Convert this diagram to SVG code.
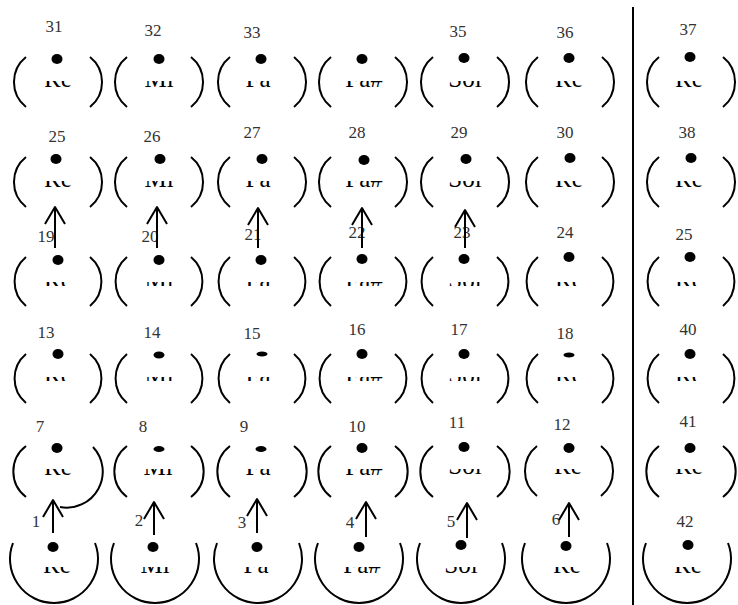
<svg xmlns="http://www.w3.org/2000/svg" width="738" height="605" viewBox="0 0 738 605">
<style>
.p{fill:none;stroke:#000;stroke-width:2}
.d{fill:#000}
.t{font-family:"Liberation Serif","Times New Roman",serif;font-size:25px;text-anchor:middle;fill:#000}
.n{font-family:"Liberation Serif","Times New Roman",serif;font-size:17px;text-anchor:middle;fill:#333}
.c{fill:none;stroke:#000;stroke-width:2;marker-end:url(#ah)}
</style>
<defs>
<marker id="ah" markerUnits="userSpaceOnUse" viewBox="-19 -12 22 24" markerWidth="22" markerHeight="24" refX="0" refY="0" orient="auto" overflow="visible">
<path d="M-17,-10 L0,0 L-17,10" fill="none" stroke="#000" stroke-width="2" stroke-linejoin="round"/>
</marker>
<clipPath id="c1"><rect x="0" y="81" width="738" height="7"/></clipPath>
<clipPath id="c2"><rect x="0" y="181" width="738" height="7"/></clipPath>
<clipPath id="c3"><rect x="0" y="282" width="738" height="4"/></clipPath>
<clipPath id="c4"><rect x="0" y="377" width="738" height="4"/></clipPath>
<clipPath id="c5"><rect x="0" y="469" width="738" height="7"/></clipPath>
<clipPath id="c6"><rect x="0" y="567" width="738" height="7"/></clipPath>
</defs>
<rect width="738" height="605" fill="#fff"/>
<line x1="633" y1="7" x2="633" y2="605" stroke="#000" stroke-width="2"/>

<!-- Row 1 -->
<g id="n31"><text class="n" x="54" y="32">31</text><ellipse class="d" cx="57" cy="59" rx="5.5" ry="5"/><text class="t" x="58" y="87" clip-path="url(#c1)">Re</text><path class="p" d="M26 57A32 32 0 0 0 26 107M90 57A32 32 0 0 1 90 107"/></g>
<g id="n32"><text class="n" x="153" y="36">32</text><ellipse class="d" cx="159" cy="59" rx="5.5" ry="5"/><text class="t" x="159" y="87" clip-path="url(#c1)">Mi</text><path class="p" d="M127 57A32 32 0 0 0 127 107M191 57A32 32 0 0 1 191 107"/></g>
<g id="n33"><text class="n" x="252" y="38">33</text><ellipse class="d" cx="261" cy="59" rx="5.5" ry="5"/><text class="t" x="258" y="87" clip-path="url(#c1)">Fa</text><path class="p" d="M230 57A32 32 0 0 0 230 107M294 57A32 32 0 0 1 294 107"/></g>
<g id="n34"><ellipse class="d" cx="362" cy="59" rx="5.5" ry="5"/><text class="t" x="364" y="87" clip-path="url(#c1)">Fa#</text><path class="p" d="M331 57A32 32 0 0 0 331 107M395 57A32 32 0 0 1 395 107"/></g>
<g id="n35"><text class="n" x="458" y="37">35</text><ellipse class="d" cx="464" cy="58" rx="5.5" ry="5"/><text class="t" x="465" y="87" clip-path="url(#c1)">Sol</text><path class="p" d="M433 57A32 32 0 0 0 433 107M497 57A32 32 0 0 1 497 107"/></g>
<g id="n36"><text class="n" x="565" y="38">36</text><ellipse class="d" cx="569" cy="58" rx="5.5" ry="5"/><text class="t" x="569" y="87" clip-path="url(#c1)">Re</text><path class="p" d="M538 57A32 32 0 0 0 538 107M602 57A32 32 0 0 1 602 107"/></g>
<g id="n37"><text class="n" x="688" y="35">37</text><ellipse class="d" cx="690" cy="57" rx="5.5" ry="5"/><text class="t" x="689" y="87" clip-path="url(#c1)">Re</text><path class="p" d="M659 57A32 32 0 0 0 659 107M723 57A32 32 0 0 1 723 107"/></g>

<!-- Row 2 -->
<g id="n25"><text class="n" x="57" y="142">25</text><ellipse class="d" cx="56" cy="159" rx="5.5" ry="5"/><text class="t" x="58" y="187" clip-path="url(#c2)">Re</text><path class="p" d="M26 157A32 32 0 0 0 26 207M90 157A32 32 0 0 1 90 207"/></g>
<g id="n26"><text class="n" x="152" y="142">26</text><ellipse class="d" cx="160" cy="159" rx="5.5" ry="5"/><text class="t" x="159" y="187" clip-path="url(#c2)">Mi</text><path class="p" d="M127 157A32 32 0 0 0 127 207M191 157A32 32 0 0 1 191 207"/></g>
<g id="n27"><text class="n" x="252" y="138">27</text><ellipse class="d" cx="262" cy="159" rx="5.5" ry="5"/><text class="t" x="258" y="187" clip-path="url(#c2)">Fa</text><path class="p" d="M230 157A32 32 0 0 0 230 207M294 157A32 32 0 0 1 294 207"/></g>
<g id="n28"><text class="n" x="357" y="138">28</text><ellipse class="d" cx="364" cy="160" rx="5.5" ry="5"/><text class="t" x="364" y="187" clip-path="url(#c2)">Fa#</text><path class="p" d="M331 157A32 32 0 0 0 331 207M395 157A32 32 0 0 1 395 207"/></g>
<g id="n29"><text class="n" x="459" y="138">29</text><ellipse class="d" cx="466" cy="159" rx="5.5" ry="5"/><text class="t" x="465" y="187" clip-path="url(#c2)">Sol</text><path class="p" d="M433 157A32 32 0 0 0 433 207M497 157A32 32 0 0 1 497 207"/></g>
<g id="n30"><text class="n" x="565" y="138">30</text><ellipse class="d" cx="570" cy="158" rx="5.5" ry="5"/><text class="t" x="569" y="187" clip-path="url(#c2)">Re</text><path class="p" d="M538 157A32 32 0 0 0 538 207M602 157A32 32 0 0 1 602 207"/></g>
<g id="n38"><text class="n" x="687" y="138">38</text><ellipse class="d" cx="691" cy="158" rx="5.5" ry="5"/><text class="t" x="689" y="187" clip-path="url(#c2)">Re</text><path class="p" d="M659 157A32 32 0 0 0 659 207M723 157A32 32 0 0 1 723 207"/></g>

<!-- Row 3 -->
<g id="n19"><text class="n" x="46" y="242">19</text><ellipse class="d" cx="58" cy="260" rx="5.5" ry="5"/><text class="t" x="58" y="288" clip-path="url(#c3)">Re</text><path class="p" d="M26 257A32 32 0 0 0 26 306M90 257A32 32 0 0 1 90 306"/></g>
<g id="n20"><text class="n" x="150" y="242">20</text><ellipse class="d" cx="159" cy="260" rx="5.5" ry="5"/><text class="t" x="159" y="288" clip-path="url(#c3)">Mi</text><path class="p" d="M127 257A32 32 0 0 0 127 306M191 257A32 32 0 0 1 191 306"/></g>
<g id="n21"><text class="n" x="253" y="240">21</text><ellipse class="d" cx="261" cy="260" rx="5.5" ry="5"/><text class="t" x="258" y="288" clip-path="url(#c3)">Fa</text><path class="p" d="M230 257A32 32 0 0 0 230 306M294 257A32 32 0 0 1 294 306"/></g>
<g id="n22"><text class="n" x="357" y="238">22</text><ellipse class="d" cx="362" cy="259" rx="5.5" ry="5"/><text class="t" x="364" y="288" clip-path="url(#c3)">Fa#</text><path class="p" d="M331 257A32 32 0 0 0 331 306M395 257A32 32 0 0 1 395 306"/></g>
<g id="n23"><text class="n" x="462" y="238">23</text><ellipse class="d" cx="464" cy="259" rx="5.5" ry="5"/><text class="t" x="465" y="288" clip-path="url(#c3)">Sol</text><path class="p" d="M433 257A32 32 0 0 0 433 306M497 257A32 32 0 0 1 497 306"/></g>
<g id="n24"><text class="n" x="565" y="238">24</text><ellipse class="d" cx="569" cy="257" rx="5.5" ry="5"/><text class="t" x="569" y="288" clip-path="url(#c3)">Re</text><path class="p" d="M538 257A32 32 0 0 0 538 306M602 257A32 32 0 0 1 602 306"/></g>
<g id="n25b"><text class="n" x="684" y="240">25</text><ellipse class="d" cx="690" cy="257" rx="5.5" ry="5"/><text class="t" x="689" y="288" clip-path="url(#c3)">Re</text><path class="p" d="M659 257A32 32 0 0 0 659 306M723 257A32 32 0 0 1 723 306"/></g>

<!-- Row 4 -->
<g id="n13"><text class="n" x="46" y="338">13</text><ellipse class="d" cx="58" cy="354" rx="5.5" ry="5"/><text class="t" x="58" y="383" clip-path="url(#c4)">Re</text><path class="p" d="M26 354A32 32 0 0 0 26 403M90 354A32 32 0 0 1 90 403"/></g>
<g id="n14"><text class="n" x="152" y="338">14</text><ellipse class="d" cx="159" cy="355" rx="5.5" ry="3.5"/><text class="t" x="159" y="383" clip-path="url(#c4)">Mi</text><path class="p" d="M127 354A32 32 0 0 0 127 403M191 354A32 32 0 0 1 191 403"/></g>
<g id="n15"><text class="n" x="252" y="339">15</text><ellipse class="d" cx="262" cy="354" rx="5.5" ry="2.5"/><text class="t" x="258" y="383" clip-path="url(#c4)">Fa</text><path class="p" d="M230 354A32 32 0 0 0 230 403M294 354A32 32 0 0 1 294 403"/></g>
<g id="n16"><text class="n" x="357" y="335">16</text><ellipse class="d" cx="362" cy="354" rx="5.5" ry="5"/><text class="t" x="364" y="383" clip-path="url(#c4)">Fa#</text><path class="p" d="M331 354A32 32 0 0 0 331 403M395 354A32 32 0 0 1 395 403"/></g>
<g id="n17"><text class="n" x="459" y="335">17</text><ellipse class="d" cx="464" cy="354" rx="5.5" ry="5"/><text class="t" x="465" y="383" clip-path="url(#c4)">Sol</text><path class="p" d="M433 354A32 32 0 0 0 433 403M497 354A32 32 0 0 1 497 403"/></g>
<g id="n18"><text class="n" x="565" y="339">18</text><ellipse class="d" cx="569" cy="355" rx="5.5" ry="2.5"/><text class="t" x="569" y="383" clip-path="url(#c4)">Re</text><path class="p" d="M538 354A32 32 0 0 0 538 403M602 354A32 32 0 0 1 602 403"/></g>
<g id="n40"><text class="n" x="688" y="335">40</text><ellipse class="d" cx="690" cy="354" rx="5.5" ry="5"/><text class="t" x="689" y="383" clip-path="url(#c4)">Re</text><path class="p" d="M659 354A32 32 0 0 0 659 403M723 354A32 32 0 0 1 723 403"/></g>

<!-- Row 5 -->
<g id="n7"><text class="n" x="40" y="432">7</text><ellipse class="d" cx="57" cy="448" rx="5.5" ry="5"/><text class="t" x="58" y="475" clip-path="url(#c5)">Re</text><path class="p" d="M26 446A32 32 0 0 0 26 497M93 447A36 36 0 0 1 60 507"/></g>
<g id="n8"><text class="n" x="143" y="432">8</text><ellipse class="d" cx="159" cy="449" rx="5.5" ry="3"/><text class="t" x="158" y="475" clip-path="url(#c5)">Mi</text><path class="p" d="M127 446A32 32 0 0 0 127 497M191 446A32 32 0 0 1 191 497"/></g>
<g id="n9"><text class="n" x="244" y="432">9</text><ellipse class="d" cx="261" cy="449" rx="5.5" ry="3"/><text class="t" x="258" y="475" clip-path="url(#c5)">Fa</text><path class="p" d="M230 446A32 32 0 0 0 230 497M294 446A32 32 0 0 1 294 497"/></g>
<g id="n10"><text class="n" x="357" y="432">10</text><ellipse class="d" cx="362" cy="448" rx="5.5" ry="5"/><text class="t" x="364" y="475" clip-path="url(#c5)">Fa#</text><path class="p" d="M331 446A32 32 0 0 0 331 497M395 446A32 32 0 0 1 395 497"/></g>
<g id="n11"><text class="n" x="457" y="428">11</text><ellipse class="d" cx="464" cy="447" rx="5.5" ry="5"/><text class="t" x="465" y="474" clip-path="url(#c5)">Sol</text><path class="p" d="M433 446A32 32 0 0 0 433 497M497 446A32 32 0 0 1 497 497"/></g>
<g id="n12"><text class="n" x="562" y="430">12</text><ellipse class="d" cx="569" cy="448" rx="5.5" ry="5"/><text class="t" x="568" y="474" clip-path="url(#c5)">Re</text><path class="p" d="M537 446A32 32 0 0 0 537 496M601 446A32 32 0 0 1 601 496"/></g>
<g id="n41"><text class="n" x="688" y="427">41</text><ellipse class="d" cx="690" cy="448" rx="5.5" ry="5"/><text class="t" x="689" y="474" clip-path="url(#c5)">Re</text><path class="p" d="M659 446A32 32 0 0 0 659 497M723 446A32 32 0 0 1 723 497"/></g>

<!-- Row 6 -->
<g id="n1"><text class="n" x="36" y="527">1</text><ellipse class="d" cx="53" cy="547" rx="5.5" ry="5"/><text class="t" x="57" y="573" clip-path="url(#c6)">Re</text><path class="p" d="M13 543A44 44 0 1 0 95 543"/></g>
<g id="n2"><text class="n" x="139" y="526">2</text><ellipse class="d" cx="153" cy="547" rx="5.5" ry="5"/><text class="t" x="155" y="573" clip-path="url(#c6)">Mi</text><path class="p" d="M114 543A44 44 0 1 0 196 543"/></g>
<g id="n3"><text class="n" x="242" y="528">3</text><ellipse class="d" cx="257" cy="547" rx="5.5" ry="5"/><text class="t" x="256" y="573" clip-path="url(#c6)">Fa</text><path class="p" d="M217 543A44 44 0 1 0 299 543"/></g>
<g id="n4"><text class="n" x="350" y="528">4</text><ellipse class="d" cx="359" cy="547" rx="5.5" ry="5"/><text class="t" x="362" y="573" clip-path="url(#c6)">Fa#</text><path class="p" d="M318 543A44 44 0 1 0 400 543"/></g>
<g id="n5"><text class="n" x="451" y="527">5</text><ellipse class="d" cx="461" cy="545" rx="5.5" ry="5"/><text class="t" x="461" y="573" clip-path="url(#c6)">Sol</text><path class="p" d="M420 543A44 44 0 1 0 502 543"/></g>
<g id="n6"><text class="n" x="556" y="525">6</text><ellipse class="d" cx="566" cy="546" rx="5.5" ry="5"/><text class="t" x="567" y="573" clip-path="url(#c6)">Re</text><path class="p" d="M525 543A44 44 0 1 0 607 543"/></g>
<g id="n42"><text class="n" x="685" y="527">42</text><ellipse class="d" cx="688" cy="545" rx="5.5" ry="5"/><text class="t" x="688" y="573" clip-path="url(#c6)">Re</text><path class="p" d="M646 543A44 44 0 1 0 728 543"/></g>

<g id="connectors">
<path class="c" d="M55 248V207"/>
<path class="c" d="M157 248V207"/>
<path class="c" d="M258 248V208"/>
<path class="c" d="M362 248V208"/>
<path class="c" d="M465 248V210"/>
<path class="c" d="M53 533V500"/>
<path class="c" d="M154 535V502"/>
<path class="c" d="M257 533V499"/>
<path class="c" d="M366 537V502"/>
<path class="c" d="M467 538V503"/>
<path class="c" d="M569 537V503"/>
</g>
</svg>
